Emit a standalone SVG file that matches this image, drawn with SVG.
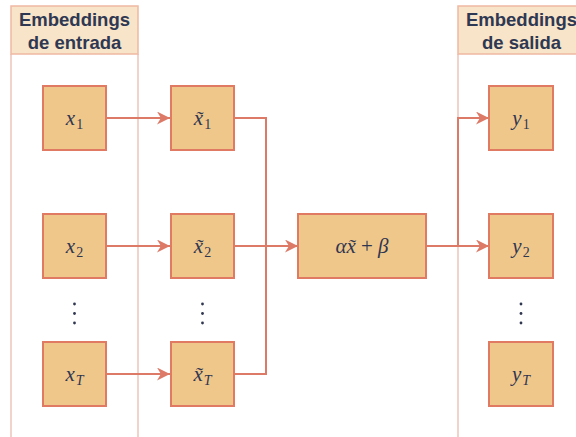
<svg xmlns="http://www.w3.org/2000/svg" width="576" height="437" viewBox="0 0 576 437">
<style>
.col{fill:none;stroke:#ecc4bb;stroke-width:1.5}
.hdr{fill:#f8e4c8;stroke:#f0b8a2;stroke-width:1.5}
.ht{font-family:"Liberation Sans",Arial,sans-serif;font-weight:bold;font-size:18.5px;fill:#2f3852;text-anchor:middle}
.box{fill:#f0c78b;stroke:#e07a62;stroke-width:2}
.m{font-family:"Liberation Serif","Times New Roman",serif;font-style:italic;font-size:21px;fill:#2f3650;text-anchor:middle}
.s{font-style:normal;font-size:14px}
.si{font-size:14px}
.ln{fill:none;stroke:#dc7a67;stroke-width:2}
.dot{fill:#2f3650}
</style>
<defs>
<marker id="ah" viewBox="0 0 10 10" refX="10" refY="5" markerWidth="6.5" markerHeight="6.5" orient="auto" markerUnits="strokeWidth">
<path d="M0,0 L10,5 L0,10 L3,5 Z" fill="#dc7a67"/>
</marker>
</defs>
<g id="col-in">
<line class="col" x1="11" y1="54" x2="11" y2="437"/>
<line class="col" x1="138" y1="54" x2="138" y2="437"/>
<rect class="hdr" x="11" y="6" width="127" height="48"/>
<text class="ht" x="74.5" y="26">Embeddings</text>
<text class="ht" x="74.5" y="49">de entrada</text>
</g>
<g id="col-out">
<line class="col" x1="458" y1="54" x2="458" y2="437"/>
<rect class="hdr" x="458" y="6" width="127" height="48"/>
<text class="ht" x="521.5" y="26">Embeddings</text>
<text class="ht" x="521.5" y="49">de salida</text>
</g>
<g id="connectors">
<line class="ln" x1="106" y1="118" x2="170" y2="118" marker-end="url(#ah)"/>
<line class="ln" x1="106" y1="246" x2="170" y2="246" marker-end="url(#ah)"/>
<line class="ln" x1="106" y1="374" x2="170" y2="374" marker-end="url(#ah)"/>
<polyline class="ln" points="234,118 266,118 266,374 234,374"/>
<line class="ln" x1="234" y1="246" x2="298" y2="246" marker-end="url(#ah)"/>
<line class="ln" x1="426" y1="246" x2="489" y2="246" marker-end="url(#ah)"/>
<polyline class="ln" points="458,246 458,118 489,118" marker-end="url(#ah)"/>
</g>
<g id="x1"><rect class="box" x="43" y="86" width="63" height="64"/><text class="m" x="74.5" y="125">x<tspan class="s" dx="1" dy="4">1</tspan></text></g>
<g id="x2"><rect class="box" x="43" y="214" width="63" height="64"/><text class="m" x="74.5" y="253">x<tspan class="s" dx="1" dy="4">2</tspan></text></g>
<g id="xT"><rect class="box" x="43" y="342" width="63" height="64"/><text class="m" x="74.5" y="381">x<tspan class="si" dx="1" dy="4">T</tspan></text></g>
<g id="xt1"><rect class="box" x="171" y="86" width="63" height="64"/><text class="m" x="202.5" y="125">x̃<tspan class="s" dx="1" dy="4">1</tspan></text></g>
<g id="xt2"><rect class="box" x="171" y="214" width="63" height="64"/><text class="m" x="202.5" y="253">x̃<tspan class="s" dx="1" dy="4">2</tspan></text></g>
<g id="xtT"><rect class="box" x="171" y="342" width="63" height="64"/><text class="m" x="202.5" y="381">x̃<tspan class="si" dx="1" dy="4">T</tspan></text></g>
<g id="norm"><rect class="box" x="298" y="214" width="128" height="64"/><text class="m" x="362" y="253">αx̃ <tspan font-style="normal">+</tspan> β</text></g>
<g id="y1"><rect class="box" x="489" y="86" width="64" height="64"/><text class="m" x="521" y="125">y<tspan class="s" dx="1" dy="4">1</tspan></text></g>
<g id="y2"><rect class="box" x="489" y="214" width="64" height="64"/><text class="m" x="521" y="253">y<tspan class="s" dx="1" dy="4">2</tspan></text></g>
<g id="yT"><rect class="box" x="489" y="342" width="64" height="64"/><text class="m" x="521" y="381">y<tspan class="si" dx="1" dy="4">T</tspan></text></g>
<g id="dots">
<circle class="dot" cx="74.5" cy="304" r="1.4"/><circle class="dot" cx="74.5" cy="313.5" r="1.4"/><circle class="dot" cx="74.5" cy="323" r="1.4"/>
<circle class="dot" cx="202.5" cy="304" r="1.4"/><circle class="dot" cx="202.5" cy="313.5" r="1.4"/><circle class="dot" cx="202.5" cy="323" r="1.4"/>
<circle class="dot" cx="521" cy="304" r="1.4"/><circle class="dot" cx="521" cy="313.5" r="1.4"/><circle class="dot" cx="521" cy="323" r="1.4"/>
</g>
</svg>
